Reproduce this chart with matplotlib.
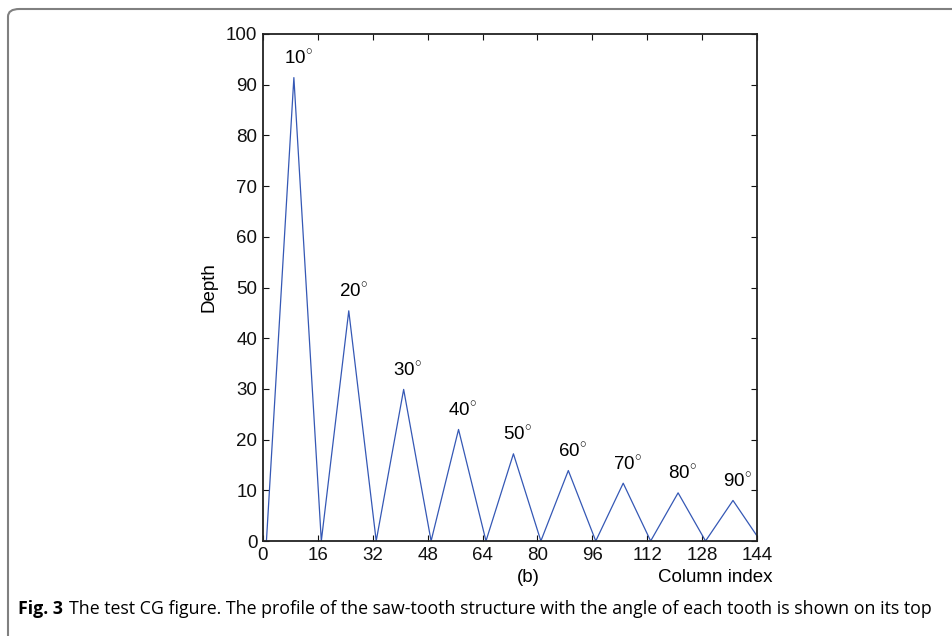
#!/usr/bin/env python3
# Saw-tooth depth profile of the test CG figure

import matplotlib
matplotlib.use("Agg")
import matplotlib.pyplot as plt
from matplotlib.patches import FancyBboxPatch

# profile vertices (column index, depth)
column = [1, 9, 17, 25, 33, 41, 49, 57, 65, 73, 81, 89, 97, 105, 113, 121, 129, 137, 144]
depth = [0, 91.4, 0, 45.4, 0, 29.9, 0, 22.0, 0, 17.2, 0, 13.9, 0, 11.4, 0, 9.5, 0, 8.0, 1.0]

# tooth apex labels
peak_col = [9, 25, 41, 57, 73, 89, 105, 121, 137]
peak_depth = [91.4, 45.4, 29.9, 22.0, 17.2, 13.9, 11.4, 9.5, 8.0]
angle_labels = ["10", "20", "30", "40", "50", "60", "70", "80", "90"]

x_ticks = [0, 16, 32, 48, 64, 80, 96, 112, 128, 144]
y_ticks = [0, 10, 20, 30, 40, 50, 60, 70, 80, 90, 100]

plt.rcParams['font.family'] = ['Liberation Sans', 'DejaVu Sans']
plt.rcParams['mathtext.fontset'] = 'custom'
plt.rcParams['mathtext.rm'] = 'Liberation Sans'

FS = 13.5


def main():
    fig = plt.figure(figsize=(9.53, 6.36), dpi=100)

    # frame around the figure panel
    box = FancyBboxPatch((8 / 953, -0.1), 1.2, 1.1 - 9 / 636,
                         boxstyle="round,pad=0,rounding_size=0.012",
                         transform=fig.transFigure, fill=False,
                         edgecolor='#808080', linewidth=1.5)
    fig.patches.append(box)

    ax = fig.add_axes([263 / 953, 1 - 541 / 636, (757 - 263) / 953, (541 - 34) / 636])
    ax.plot(column, depth, color='#3558b5', linewidth=0.9)

    for xc, yc, lab in zip(peak_col, peak_depth, angle_labels):
        ax.annotate(lab + r'$^{\circ}$', (xc, yc), xytext=(3, 14),
                    textcoords='offset points', ha='center', va='center',
                    fontsize=FS)

    ax.set_xlim(0, 144)
    ax.set_ylim(0, 100)
    ax.set_xticks(x_ticks)
    ax.set_yticks(y_ticks)
    ax.tick_params(direction='in', top=True, right=True, length=4,
                   width=0.8, labelsize=FS, pad=4, colors='#111111')
    for s in ax.spines.values():
        s.set_linewidth(1.3)
        s.set_color('#222222')

    ax.set_ylabel('Depth', fontsize=FS, labelpad=6)
    fig.text(528 / 953, 1 - 578 / 636, '(b)', ha='center', va='center', fontsize=FS)
    fig.text(773 / 953, 1 - 577 / 636, 'Column index', ha='right', va='center', fontsize=FS)

    # caption
    cap_y = 1 - 609 / 636
    t1 = fig.text(18 / 953, cap_y, 'Fig. 3', ha='left', va='center',
                  fontsize=12.8, fontweight='bold', family='Open Sans')
    fig.canvas.draw()
    bb = t1.get_window_extent()
    fig.text((bb.x1 + 6) / 953, cap_y,
             'The test CG figure. The profile of the saw-tooth structure with the angle '
             'of each tooth is shown on its top',
             ha='left', va='center', fontsize=12.8, family='Open Sans')

    plt.savefig('out.png', dpi=100)
    plt.close()


if __name__ == "__main__":
    main()
